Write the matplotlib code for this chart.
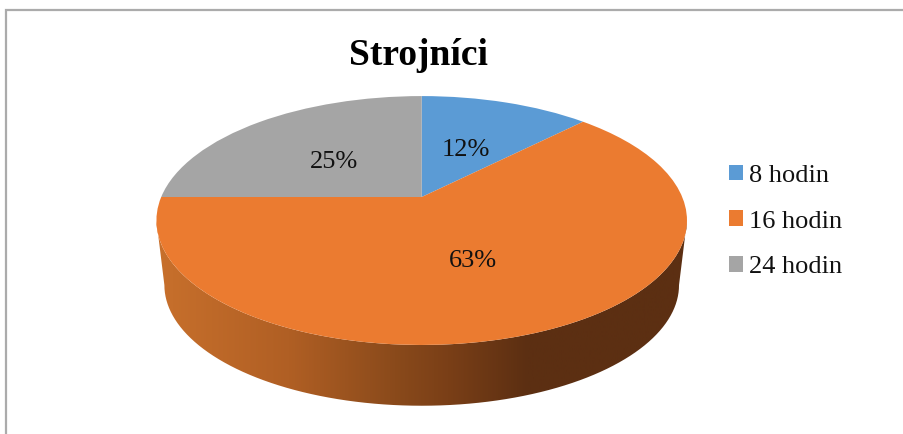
import matplotlib
matplotlib.use("Agg")
import matplotlib.pyplot as plt
import numpy as np
from matplotlib.path import Path
from matplotlib.patches import PathPatch, Patch
from matplotlib.colors import LinearSegmentedColormap

plt.rcParams['font.family'] = ['Liberation Serif', 'DejaVu Serif']

title = "Strojníci"
labels = ["8 hodin", "16 hodin", "24 hodin"]
values = [12.4, 62.6, 25]
percent_labels = ["12%", "63%", "25%"]
colors = ["#5B9BD5", "#EB7B30", "#A5A5A5"]

# where the percent labels sit (baseline), in pixels
label_pos = [(466, 156), (473, 267), (334, 168)]

# the pie is drawn on a unit circle, then tilted with this perspective
apex_x, apex_y = 421.7, 197
half_w, half_h, tilt = 260.5, 120, 0.189

# lower rim is a bit narrower than the top one
rim_mid_y, low_mid_y, low_scale = 220.5, 285, 0.97

side_colors = ["#C8702C", "#B05F24", "#8A4A1B", "#7A3F17", "#5C2F12", "#5C2F12"]
side_stops = [0.0, 0.25, 0.45, 0.55, 0.7, 1.0]


def tilted(verts):
    w = 1 + tilt * verts[:, 1]
    return np.column_stack((apex_x + half_w * verts[:, 0] / w,
                            apex_y - half_h * verts[:, 1] / w))


fig = plt.figure(figsize=(9.04, 4.34), dpi=100)
ax = fig.add_axes([0, 0, 1, 1])

wedges, _ = ax.pie(values, colors=colors, startangle=90, counterclock=False)
for wedge in wedges:
    path = wedge.get_path()
    verts = tilted(path.vertices)
    wedge.remove()
    ax.add_patch(PathPatch(Path(verts, path.codes), facecolor=wedge.get_facecolor(),
                           edgecolor="none", zorder=3))

ax.set_aspect("auto")
ax.axis("off")

# side wall: front half of the rim joined to the lower rim
off = np.degrees(np.arcsin(tilt))
t = np.radians(np.linspace(180 + off, 360 - off, 181))
rim = tilted(np.column_stack((np.cos(t), np.sin(t))))
lower = np.column_stack((apex_x + low_scale * (rim[:, 0] - apex_x),
                         low_mid_y + low_scale * (rim[:, 1] - rim_mid_y)))
wall = Path(np.vstack((rim, lower[::-1], rim[:1])))
cmap = LinearSegmentedColormap.from_list("side", list(zip(side_stops, side_colors)))
img = ax.imshow(np.linspace(0, 1, 256)[None, :], cmap=cmap, aspect="auto",
                extent=(rim[:, 0].min(), rim[:, 0].max(), 434, 0), zorder=2)
img.set_clip_path(PathPatch(wall, transform=ax.transData))
ax.set_xlim(0, 904)
ax.set_ylim(434, 0)

# chart frame, only left and top show in the crop
ax.plot([6.5, 6.5, 904], [434, 9.5, 9.5], color="#ABABAB", lw=1.6, zorder=1,
        solid_joinstyle="miter")

for txt, (x, y) in zip(percent_labels, label_pos):
    ax.text(x, y, txt, fontsize=19, ha="center", va="baseline", color="#111111", zorder=5)

ax.text(418, 65, title, fontsize=27, fontweight="bold", ha="center", va="baseline",
        color="black")

handles = [Patch(facecolor=c, edgecolor="none") for c in colors]
ax.legend(handles, labels, loc="center left", bbox_to_anchor=(729 / 904, 1 - 221.5 / 434),
          frameon=False, fontsize=19, handlelength=0.53, handleheight=0.53,
          handletextpad=0.23, labelspacing=0.9, borderpad=0, borderaxespad=0,
          labelcolor="#111111")

plt.savefig("out.png", dpi=100)
